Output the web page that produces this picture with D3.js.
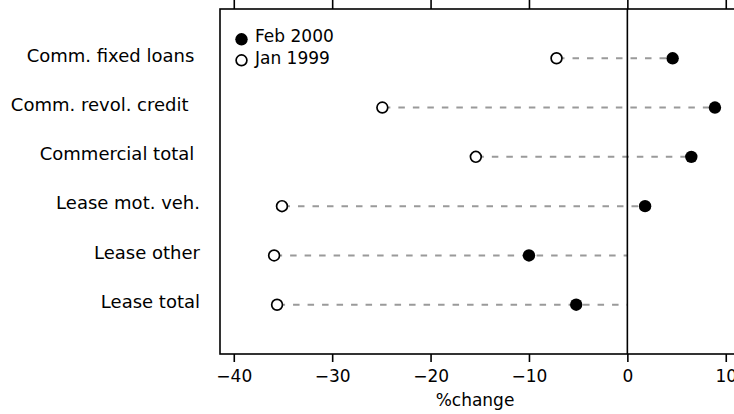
<!DOCTYPE html>
<html>
<head>
<meta charset="utf-8">
<script src="https://cdn.jsdelivr.net/npm/d3@7"></script>
<style>
  html, body { margin: 0; padding: 0; background: #fff; }
  svg { display: block; font-family: "DejaVu Sans", sans-serif; }
  text { white-space: pre; }
</style>
</head>
<body>
<svg id="chart" width="734" height="414"></svg>
<script>
const categories = ["Comm. fixed loans ", "Comm. revol. credit  ", "Commercial total ", "Lease mot. veh.", "Lease other", "Lease total"];
const feb2000 = [4.6, 8.9, 6.5, 1.8, -10.0, -5.2];
const jan1999 = [-7.2, -24.9, -15.4, -35.1, -35.9, -35.6];
const xTicks = [-40, -30, -20, -10, 0, 10];
const seriesNames = ["Feb 2000", "Jan 1999"];
const xTitle = "%change";

(function () {
const svg = d3.select("#chart");
const pLeft = 220, pRight = 735.6, pTop = 9, pBottom = 354;

const x = d3.scaleLinear().domain([-41.4, 11]).range([pLeft, pRight]);
const y = d3.scalePoint().domain(categories).range([pTop, pBottom]).padding(1);

const rows = categories.map((c, i) => ({ c, a: jan1999[i], b: feb2000[i] }));

// dashed connectors
svg.append("g").selectAll("line").data(rows).join("line")
  .attr("x1", d => x(Math.min(d.a, d.b, 0)))
  .attr("x2", d => x(Math.max(d.a, d.b, 0)))
  .attr("y1", d => y(d.c)).attr("y2", d => y(d.c))
  .attr("stroke", "#9a9a9a").attr("stroke-width", 2)
  .attr("stroke-dasharray", "6.5 8").attr("stroke-dashoffset", 13);

// zero line
svg.append("line")
  .attr("x1", x(0)).attr("x2", x(0)).attr("y1", pTop).attr("y2", pBottom)
  .attr("stroke", "#000").attr("stroke-width", 1.6);

// frame
svg.append("rect")
  .attr("x", pLeft).attr("y", pTop).attr("width", pRight - pLeft).attr("height", pBottom - pTop)
  .attr("fill", "none").attr("stroke", "#000").attr("stroke-width", 1.6);

// axes
const fmt = d3.format("d");
const bx = svg.append("g").attr("transform", `translate(0,${pBottom})`)
  .call(d3.axisBottom(x).tickValues(xTicks).tickFormat(fmt).tickSize(8).tickPadding(8));
bx.select(".domain").remove();
bx.selectAll(".tick line").attr("stroke", "#000").attr("stroke-width", 1.6);
bx.selectAll(".tick text").attr("font-size", 17).attr("font-family", "DejaVu Sans").attr("fill", "#000");

const tx = svg.append("g").attr("transform", `translate(0,${pTop})`)
  .call(d3.axisTop(x).tickValues(xTicks).tickFormat("").tickSize(9));
tx.select(".domain").remove();
tx.selectAll(".tick line").attr("stroke", "#000").attr("stroke-width", 1.6);

// category labels
svg.append("g").selectAll("text").data(categories).join("text")
  .attr("x", 200).attr("y", d => y(d)).attr("dy", "0.18em")
  .attr("text-anchor", "end").attr("font-size", 18).attr("fill", "#000")
  .text(d => d);

// points
svg.append("g").selectAll("circle").data(rows).join("circle")
  .attr("cx", d => x(d.a)).attr("cy", d => y(d.c)).attr("r", 5.4)
  .attr("fill", "#fff").attr("stroke", "#000").attr("stroke-width", 1.7);
svg.append("g").selectAll("circle").data(rows).join("circle")
  .attr("cx", d => x(d.b)).attr("cy", d => y(d.c)).attr("r", 6.2)
  .attr("fill", "#000");

// x title
svg.append("text").attr("x", 475).attr("y", 406).attr("text-anchor", "middle")
  .attr("font-size", 17).attr("fill", "#000").text(xTitle);

// legend
const lg = svg.append("g");
lg.append("circle").attr("cx", 241.5).attr("cy", 39.3).attr("r", 6.2).attr("fill", "#000");
lg.append("circle").attr("cx", 241.5).attr("cy", 60.3).attr("r", 5.4)
  .attr("fill", "#fff").attr("stroke", "#000").attr("stroke-width", 1.7);
lg.selectAll("text").data(seriesNames).join("text")
  .attr("x", 255).attr("y", (d, i) => [42.3, 64.3][i])
  .attr("font-size", 17).attr("fill", "#000").text(d => d);
})();
</script>
</body>
</html>
